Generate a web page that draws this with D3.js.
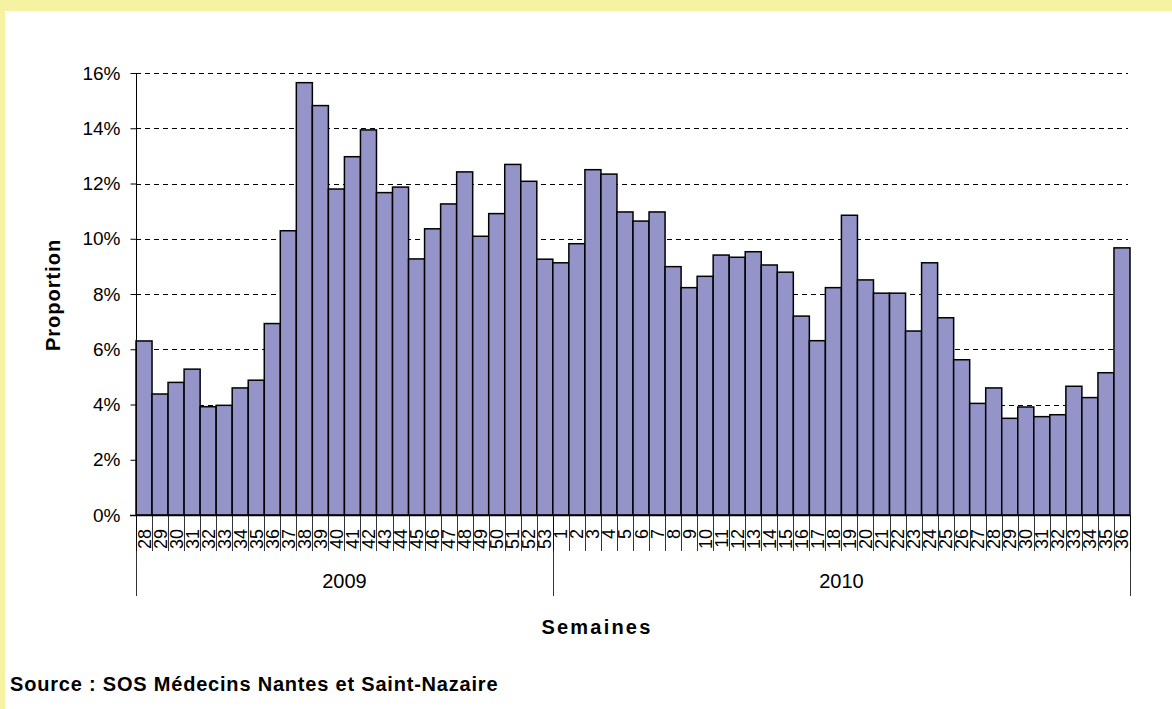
<!DOCTYPE html>
<html>
<head>
<meta charset="utf-8">
<script src="https://cdn.jsdelivr.net/npm/d3@7"></script>
<style>
  body { margin: 0; background: #fff; }
  svg { display: block; font-family: Arial, "Liberation Sans", sans-serif; }
</style>
</head>
<body>
<svg id="chart" width="1172" height="709"></svg>
<script>
// semaines 2009 (28..53) puis 2010 (1..36)
const weeks2009 = d3.range(28, 54).map(String);
const weeks2010 = d3.range(1, 37).map(String);
const years = ["2009", "2010"];

const values2009 = [6.3, 4.38, 4.8, 5.28, 3.92, 3.97, 4.6, 4.88, 6.93, 10.29,
    15.65, 14.82, 11.8, 12.97, 13.94, 11.67, 11.87, 9.27, 10.36, 11.26,
    12.42, 10.09, 10.91, 12.69, 12.08, 9.26];
const values2010 = [9.13, 9.82, 12.5, 12.34, 10.97, 10.64, 10.97, 8.99, 8.23, 8.64,
    9.41, 9.33, 9.53, 9.05, 8.79, 7.2, 6.31, 8.23, 10.85, 8.51,
    8.03, 8.03, 6.66, 9.13, 7.14, 5.62, 4.04, 4.6, 3.5, 3.91,
    3.56, 3.63, 4.66, 4.25, 5.15, 9.67];
const yTicks = [0, 2, 4, 6, 8, 10, 12, 14, 16];

const data = [
    ...weeks2009.map((w, i) => ({ key: "2009-" + w, week: w, year: "2009", value: values2009[i] })),
    ...weeks2010.map((w, i) => ({ key: "2010-" + w, week: w, year: "2010", value: values2010[i] }))
];

const svg = d3.select("#chart");
const W = 1172, H = 709;
const plot = { left: 136, right: 1130, top: 73, bottom: 515 };

// cadre jaune
svg.append("rect").attr("width", W).attr("height", H).attr("fill", "#f5f3a1");
svg.append("rect").attr("x", 5).attr("y", 11).attr("width", W - 5).attr("height", H - 11).attr("fill", "#fff");

const x = d3.scaleBand()
    .domain(data.map(d => d.key))
    .range([plot.left, plot.right])
    .padding(0);

const y = d3.scaleLinear()
    .domain([0, 16])
    .range([plot.bottom, plot.top]);

// grille pointillée
svg.append("g")
    .selectAll("line")
    .data(yTicks.filter(t => t > 0))
    .join("line")
    .attr("x1", plot.left)
    .attr("x2", plot.right - 2)
    .attr("y1", d => Math.round(y(d)) + 0.5)
    .attr("y2", d => Math.round(y(d)) + 0.5)
    .attr("stroke", "#000")
    .attr("stroke-width", 1)
    .attr("stroke-dasharray", "5,4");

// barres
svg.append("g")
    .selectAll("rect")
    .data(data)
    .join("rect")
    .attr("x", d => x(d.key))
    .attr("y", d => y(d.value))
    .attr("width", x.bandwidth())
    .attr("height", d => y(0) - y(d.value))
    .attr("fill", "#9494c8")
    .attr("stroke", "#000")
    .attr("stroke-width", 1.5);

// axe Y
const yAxis = svg.append("g")
    .attr("transform", `translate(${plot.left + 0.5},0)`)
    .call(d3.axisLeft(y).tickValues(yTicks).tickSize(6).tickPadding(10)
        .tickFormat(d => d + "%"));
yAxis.select(".domain").attr("stroke", "#000").attr("d", `M0,${plot.top}V${plot.bottom}`);
yAxis.selectAll(".tick line").attr("stroke", "#000");
yAxis.selectAll(".tick text")
    .attr("font-size", 19)
    .attr("font-family", "Arial, 'Liberation Sans', sans-serif")
    .attr("fill", "#000");

// axe X : ligne de base
svg.append("line")
    .attr("x1", plot.left - 6).attr("x2", plot.right)
    .attr("y1", plot.bottom + 0.5).attr("y2", plot.bottom + 0.5)
    .attr("stroke", "#000").attr("stroke-width", 1.5);

// graduations entre les semaines
const boundaries = data.map(d => x(d.key)).concat([plot.right]);
svg.append("g")
    .selectAll("line")
    .data(boundaries)
    .join("line")
    .attr("x1", d => Math.round(d) + 0.5)
    .attr("x2", d => Math.round(d) + 0.5)
    .attr("y1", plot.bottom)
    .attr("y2", 551)
    .attr("stroke", "#000")
    .attr("stroke-width", 0.8);

// étiquettes semaines
const xAxis = svg.append("g")
    .attr("transform", `translate(0,${plot.bottom})`)
    .call(d3.axisBottom(x).tickSize(0).tickFormat(k => k.split("-")[1]));
xAxis.select(".domain").remove();
xAxis.selectAll(".tick text")
    .attr("transform", "rotate(-90)")
    .attr("text-anchor", "end")
    .attr("x", -14)
    .attr("y", 0)
    .attr("dy", "0.36em")
    .attr("font-size", 18)
    .attr("font-family", "Arial, 'Liberation Sans', sans-serif")
    .attr("fill", "#000");

// groupes années
const yearStart = yr => x(data.find(d => d.year === yr).key);
const yearEnd = yr => {
    const list = data.filter(d => d.year === yr);
    return x(list[list.length - 1].key) + x.bandwidth();
};
const sep = [yearStart("2009"), yearStart("2010"), yearEnd("2010")];
svg.append("g")
    .selectAll("line")
    .data(sep)
    .join("line")
    .attr("x1", d => Math.round(d) + 0.5)
    .attr("x2", d => Math.round(d) + 0.5)
    .attr("y1", plot.bottom)
    .attr("y2", 596)
    .attr("stroke", "#000")
    .attr("stroke-width", 0.8);

svg.append("g")
    .selectAll("text")
    .data(years)
    .join("text")
    .attr("x", d => (yearStart(d) + yearEnd(d)) / 2)
    .attr("y", 588)
    .attr("text-anchor", "middle")
    .attr("font-size", 20)
    .text(d => d);

// titres
svg.append("text")
    .attr("x", 597)
    .attr("y", 634)
    .attr("text-anchor", "middle")
    .attr("font-size", 20)
    .attr("font-weight", "bold")
    .attr("letter-spacing", 2.2)
    .text("Semaines");

svg.append("text")
    .attr("transform", "translate(60,295) rotate(-90)")
    .attr("text-anchor", "middle")
    .attr("font-size", 20)
    .attr("font-weight", "bold")
    .attr("letter-spacing", 1)
    .text("Proportion");

svg.append("text")
    .attr("x", 10)
    .attr("y", 691)
    .attr("font-size", 20)
    .attr("font-weight", "bold")
    .attr("letter-spacing", 0.8)
    .text("Source : SOS Médecins Nantes et Saint-Nazaire");
</script>
</body>
</html>
